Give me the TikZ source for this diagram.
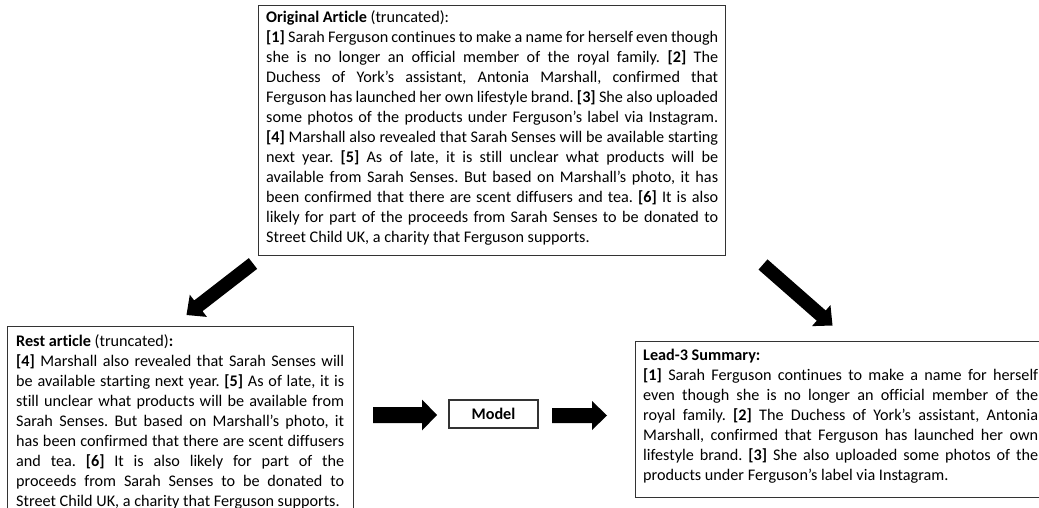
\documentclass[tikz,border=0pt]{standalone}
\usepackage{fontspec}
\setmainfont{Carlito}[Ligatures=NoCommon]
\usetikzlibrary{calc}
\tikzset{
  box/.style={draw=black!80, line width=1.2pt, fill=none, inner sep=0pt},
  txt/.style={anchor=base west, inner sep=0pt},
}
\newcommand\bodyfont{\fontsize{16.2pt}{20pt}\selectfont\frenchspacing\hyphenpenalty=10000\tolerance=10000\parindent=0pt}
\newcommand\fatarrow[5]{%
  \path ($(#2)!#5!(#1)$) coordinate (fa-h);
  \fill[black] ($(#1)!#3!90:(#2)$) -- ($(fa-h)!#3!90:(#2)$) -- ($(fa-h)!#4!90:(#2)$) -- (#2)
    -- ($(fa-h)!#4!-90:(#2)$) -- ($(fa-h)!#3!-90:(#2)$) -- ($(#1)!#3!-90:(#2)$) -- cycle;
}
\begin{document}
\begin{tikzpicture}[x=1pt,y=-1pt]
\fill[white] (0,0) rectangle (1039,508);
\path[use as bounding box] (0,0) rectangle (1039,508);

% boxes
\node[box, minimum width=467pt, minimum height=250pt, anchor=north west] (orig) at (258,5) {};
\node[box, minimum width=346pt, minimum height=200pt, anchor=north west] (rest) at (7,326) {};
\node[box, minimum width=420pt, minimum height=156pt, anchor=north west] (lead) at (635,341) {};
\node[box, minimum width=89pt, minimum height=28pt] (model) at (493.5,414) {\bodyfont\textbf{Model}};

% texts
\node[txt] (origtext) at (266,23) {\parbox[t]{452pt}{\bodyfont
\textbf{Original Article} (truncated):\\
\textbf{[1]} Sarah Ferguson continues to make a name for herself even though\linebreak
she is no longer an official member of the royal family. \textbf{[2]} The\linebreak
Duchess of York’s assistant, Antonia Marshall, confirmed that\linebreak
Ferguson has launched her own lifestyle brand. \textbf{[3]} She also uploaded\linebreak
some photos of the products under Ferguson’s label via Instagram.\linebreak
\textbf{[4]} Marshall also revealed that Sarah Senses will be available starting\linebreak
next year. \textbf{[5]} As of late, it is still unclear what products will be\linebreak
available from Sarah Senses. But based on Marshall’s photo, it has\linebreak
been confirmed that there are scent diffusers and tea. \textbf{[6]} It is also\linebreak
likely for part of the proceeds from Sarah Senses to be donated to\linebreak
Street Child UK, a charity that Ferguson supports.}};

\node[txt] (resttext) at (16,346) {\parbox[t]{328pt}{\bodyfont
\textbf{Rest article} (truncated)\textbf{:}\\
\textbf{[4]} Marshall also revealed that Sarah Senses will\linebreak
be available starting next year. \textbf{[5]} As of late, it is\linebreak
still unclear what products will be available from\linebreak
Sarah Senses. But based on Marshall’s photo, it\linebreak
has been confirmed that there are scent diffusers\linebreak
and tea. \textbf{[6]} It is also likely for part of the\linebreak
proceeds from Sarah Senses to be donated to\linebreak
Street Child UK, a charity that Ferguson supports.}};

\node[txt] (leadtext) at (643,360) {\parbox[t]{395pt}{\bodyfont
\textbf{Lead-3 Summary:}\\
\textbf{[1]} Sarah Ferguson continues to make a name for herself\linebreak
even though she is no longer an official member of the\linebreak
royal family. \textbf{[2]} The Duchess of York’s assistant, Antonia\linebreak
Marshall, confirmed that Ferguson has launched her own\linebreak
lifestyle brand. \textbf{[3]} She also uploaded some photos of the\linebreak
products under Ferguson’s label via Instagram.}};

% connector end points
\coordinate (a1s) at (253,263.5);
\coordinate (a1e) at (186.5,315);
\coordinate (a2s) at (763,264.5);
\coordinate (a2e) at (832.5,325.5);
\coordinate (a3s) at (373,415);
\coordinate (a3e) at (437,415);
\coordinate (a4s) at (552,415.5);
\coordinate (a4e) at (607,415.5);

\fatarrow{a1s}{a1e}{6.8pt}{14pt}{15pt}
\fatarrow{a2s}{a2e}{6.8pt}{14pt}{15pt}
\fatarrow{a3s}{a3e}{8pt}{15.5pt}{15pt}
\fatarrow{a4s}{a4e}{7.5pt}{14.5pt}{15pt}
\end{tikzpicture}
\end{document}
